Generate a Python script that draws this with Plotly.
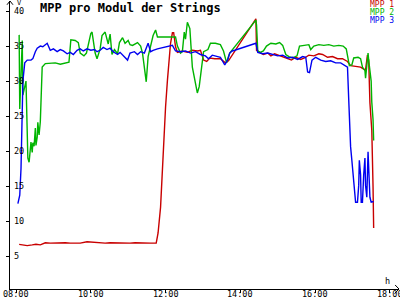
import plotly.graph_objects as go

DAY = "2024-06-01 "

series_names = ["MPP 1", "MPP 2", "MPP 3"]
series_colors = ["#c80000", "#00b400", "#0000f0"]

mpp1_t = ["08:05", "08:11", "08:18", "08:26", "08:32", "08:39", "08:47", "08:55", "09:03", "09:11",
          "09:19", "09:27", "09:35", "09:43", "09:54", "10:02", "10:10", "10:23", "10:31", "10:47",
          "10:55", "11:03", "11:11", "11:20", "11:28", "11:36", "11:45", "11:48", "11:52", "11:55",
          "11:57", "12:00", "12:03", "12:05", "12:08", "12:11", "12:13", "12:16", "12:19", "12:27",
          "12:35", "12:43", "12:51", "12:56", "13:01", "13:06", "13:11", "13:19", "13:28", "13:36",
          "13:41", "14:25", "14:26", "14:31", "14:37", "14:44", "14:49", "14:55", "15:02", "15:08",
          "15:16", "15:22", "15:29", "15:37", "15:43", "15:50", "15:58", "16:06", "16:12", "16:20",
          "16:28", "16:36", "16:44", "16:52", "16:57", "17:05", "17:13", "17:18", "17:21", "17:24",
          "17:26", "17:28", "17:31", "17:33", "17:34"]
mpp1_v = [6.67, 6.6, 6.5, 6.6, 6.7, 6.6, 6.9, 6.85, 6.9, 6.85,
          6.9, 6.85, 6.9, 6.85, 7.05, 7.0, 6.85, 6.85, 6.9, 6.85,
          6.9, 6.85, 6.9, 6.85, 6.9, 6.85, 6.85, 8.3, 12.0, 17.3,
          22.0, 26.3, 30.1, 32.6, 35.4, 36.9, 36.9, 34.9, 34.1, 34.3,
          34.1, 34.4, 34.3, 34.4, 33.0, 32.8, 33.3, 33.2, 33.2, 32.6,
          32.9, 38.9, 34.4, 34.1, 33.8, 34.0, 33.6, 33.9, 33.7, 33.5,
          33.2, 33.0, 33.4, 33.1, 33.3, 33.7, 33.6, 33.9, 33.8, 33.4,
          33.5, 33.2, 33.2, 32.8, 32.2, 32.1, 32.0, 31.7, 31.6, 33.7,
          33.0, 26.9, 23.0, 14.9, 9.0]

mpp2_t = ["08:05", "08:06", "08:10", "08:11", "08:16", "08:18", "08:19", "08:21", "08:24", "08:26",
          "08:27", "08:29", "08:31", "08:32", "08:34", "08:35", "08:37", "08:39", "08:40", "08:42",
          "08:47", "08:55", "09:03", "09:11", "09:19", "09:25", "09:28", "09:35", "09:40", "09:43",
          "09:49", "09:53", "10:00", "10:02", "10:07", "10:10", "10:15", "10:18", "10:23", "10:28",
          "10:31", "10:34", "10:38", "10:43", "10:46", "10:51", "10:55", "11:00", "11:03", "11:07",
          "11:15", "11:20", "11:23", "11:26", "11:29", "11:32", "11:36", "11:40", "11:44", "11:47",
          "12:16", "12:19", "12:24", "12:27", "12:30", "12:32", "12:35", "12:39", "12:43", "12:48",
          "12:51", "12:54", "12:58", "13:01", "13:08", "13:12", "13:20", "13:28", "13:33", "13:38",
          "13:41", "13:43", "14:25", "14:26", "14:28", "14:32", "14:37", "14:42", "14:49", "14:57",
          "15:03", "15:08", "15:13", "15:18", "15:24", "15:31", "15:35", "15:42", "15:50", "15:53",
          "15:58", "16:06", "16:14", "16:22", "16:30", "16:38", "16:45", "16:50", "16:54", "16:55",
          "16:59", "17:02", "17:09", "17:13", "17:16", "17:20", "17:21", "17:23", "17:25", "17:26",
          "17:30", "17:31", "17:33", "17:34"]
mpp2_v = [36.6, 26.0, 35.8, 28.0, 30.0, 20.6, 19.0, 18.4, 21.3, 19.8,
          21.2, 20.7, 23.3, 20.8, 22.0, 24.1, 22.3, 24.2, 28.0, 32.0,
          32.5, 32.5, 32.6, 32.4, 32.6, 32.7, 35.9, 35.8, 35.5, 34.0,
          33.6, 34.0, 36.8, 37.0, 34.0, 33.2, 34.6, 36.5, 37.0, 35.3,
          36.7, 33.8, 34.5, 33.9, 35.5, 36.2, 35.4, 35.8, 35.2, 35.1,
          35.5, 35.0, 34.0, 32.0, 29.9, 33.5, 34.8, 36.5, 37.3, 36.3,
          36.3, 35.0, 34.0, 34.2, 37.0, 36.0, 38.4, 37.5, 32.0, 29.5,
          28.3, 29.2, 32.5, 34.2, 34.5, 35.4, 35.4, 35.2, 34.3, 32.6,
          33.5, 34.0, 38.7, 38.0, 34.3, 34.1, 34.3, 35.0, 35.4, 35.3,
          35.5, 35.1, 33.8, 33.5, 33.3, 33.6, 35.0, 35.1, 35.2, 34.5,
          35.0, 35.2, 35.1, 35.2, 35.0, 35.1, 35.0, 34.6, 33.0, 32.2,
          32.3, 33.3, 33.4, 33.2, 32.0, 31.5, 30.4, 32.0, 34.0, 33.0,
          30.0, 27.0, 24.5, 21.5]

mpp3_t = ["08:03", "08:06", "08:08", "08:10", "08:11", "08:14", "08:18", "08:24", "08:27", "08:31",
          "08:34", "08:39", "08:43", "08:50", "08:55", "09:00", "09:06", "09:11", "09:16", "09:22",
          "09:27", "09:32", "09:38", "09:43", "09:48", "09:54", "10:00", "10:06", "10:10", "10:15",
          "10:20", "10:26", "10:31", "10:36", "10:43", "10:47", "10:54", "10:59", "11:03", "11:10",
          "11:15", "11:20", "11:26", "11:32", "11:36", "11:40", "11:47", "11:52", "12:00", "12:08",
          "12:11", "12:16", "12:24", "12:32", "12:40", "12:48", "12:56", "13:04", "13:09", "13:15",
          "13:22", "13:28", "13:35", "13:40", "13:43", "13:47", "13:51", "14:25", "14:28", "14:36",
          "14:44", "14:52", "15:00", "15:08", "15:16", "15:24", "15:32", "15:40", "15:45", "15:48",
          "15:51", "15:55", "16:01", "16:09", "16:17", "16:25", "16:33", "16:41", "16:47", "16:52",
          "16:54", "16:55", "16:57", "16:59", "17:02", "17:05", "17:08", "17:10", "17:11", "17:13",
          "17:14", "17:16", "17:18", "17:20", "17:21", "17:23", "17:25", "17:26", "17:28", "17:30",
          "17:34"]
mpp3_v = [12.5, 13.7, 17.5, 26.5, 30.0, 32.6, 33.0, 33.0, 33.2, 34.2,
          34.7, 35.0, 34.9, 35.4, 34.4, 34.6, 34.2, 34.5, 34.3, 33.9,
          34.1, 33.8, 34.4, 34.6, 34.3, 34.6, 34.4, 34.5, 34.2, 34.4,
          34.8, 34.5, 34.7, 34.2, 33.8, 34.1, 33.5, 33.0, 34.0, 34.2,
          33.8, 34.2, 34.0, 35.4, 34.2, 34.4, 34.6, 34.7, 34.9, 35.1,
          35.1, 34.3, 34.2, 34.3, 34.0, 34.2, 33.8, 33.6, 33.2, 33.7,
          33.5, 33.4, 32.3, 33.1, 34.0, 34.3, 34.4, 35.4, 34.1, 33.9,
          34.0, 33.8, 33.6, 33.7, 33.3, 33.4, 33.1, 33.5, 33.4, 31.3,
          31.2, 33.0, 33.4, 33.0, 32.8, 32.9, 32.6, 32.6, 32.2, 32.0,
          27.3, 24.4, 20.6, 18.7, 15.4, 12.7, 12.7, 15.1, 18.7, 16.6,
          12.7, 12.7, 16.6, 19.0, 15.1, 13.4, 19.9, 18.0, 13.4, 12.7,
          12.8]

y_ticks = [5, 10, 15, 20, 25, 30, 35, 40]
x_ticks = ["08:00", "10:00", "12:00", "14:00", "16:00", "18:00"]

title_text = "MPP pro Modul der Strings"
x_unit = "h"
y_unit = "V"

MONO = "DejaVu Sans Mono"

fig = go.Figure()
for name, color, ts, vs in zip(series_names, series_colors,
                                [mpp1_t, mpp2_t, mpp3_t], [mpp1_v, mpp2_v, mpp3_v]):
    fig.add_trace(go.Scatter(
        x=[DAY + t for t in ts], y=vs, mode="lines", name=name,
        line=dict(color=color, width=1.4), showlegend=False))

fig.update_layout(
    width=400, height=300,
    margin=dict(l=10, r=1, t=1, b=11, autoexpand=False),
    paper_bgcolor="white", plot_bgcolor="white",
    title=dict(text="<b>" + title_text + "</b>", x=40 / 400, xanchor="left",
               xref="container", y=1 - 8 / 300, yanchor="middle", yref="container",
               font=dict(family=MONO, size=12, color="black")),
    xaxis=dict(
        type="date",
        range=[DAY + "07:50:20", DAY + "18:14:40"],
        tickvals=[DAY + t for t in x_ticks],
        showticklabels=False, automargin=False,
        showline=True, linecolor="black", linewidth=1,
        ticks="outside", ticklen=3, tickcolor="black",
        showgrid=False, zeroline=False,
    ),
    yaxis=dict(
        range=[0.3, 41.44],
        tickvals=y_ticks,
        showticklabels=False, automargin=False,
        showline=True, linecolor="black", linewidth=1,
        ticks="outside", ticklen=3, tickcolor="black",
        showgrid=False, zeroline=False,
    ),
)

# x tick labels just under the axis line, sitting on the bottom edge
for t in x_ticks:
    fig.add_annotation(text=t, xref="x", yref="paper", x=DAY + t, y=(289 - 300) / 288,
                       xanchor="center", yanchor="bottom", borderpad=0, showarrow=False,
                       font=dict(family=MONO, size=8.5, color="black"))

# y tick labels drawn inside the plot, right of the axis line
for v in y_ticks:
    fig.add_annotation(text=str(v), xref="paper", yref="y", x=0, y=v,
                       xanchor="left", yanchor="middle", xshift=2, showarrow=False,
                       font=dict(family=MONO, size=8.5, color="black"))

# legend as coloured text, top right
for i, (name, color) in enumerate(zip(series_names, series_colors)):
    fig.add_annotation(text=name, xref="paper", yref="paper",
                       x=(396 - 10) / 389, y=(289 - (5 + 8 * i)) / 288,
                       xanchor="right", yanchor="middle", showarrow=False,
                       font=dict(family=MONO, size=8, color=color))

# axis arrowheads and unit labels
fig.add_shape(type="path", xref="paper", yref="paper",
              path="M -0.0077 0.987 L 0 1 L 0.0077 0.987",
              line=dict(color="black", width=1))
fig.add_shape(type="path", xref="paper", yref="paper",
              path="M 0.990 0.0139 L 1 0 L 0.990 -0.0139",
              line=dict(color="black", width=1))
fig.add_annotation(text=y_unit, xref="paper", yref="paper", x=(19 - 10) / 389, y=(289 - 3) / 288,
                   xanchor="center", yanchor="middle", showarrow=False,
                   font=dict(family=MONO, size=7, color="black"))
fig.add_annotation(text=x_unit, xref="paper", yref="paper", x=(387 - 10) / 389, y=(289 - 281) / 288,
                   xanchor="center", yanchor="middle", showarrow=False,
                   font=dict(family=MONO, size=8.5, color="black"))

fig.write_html("out.html")
